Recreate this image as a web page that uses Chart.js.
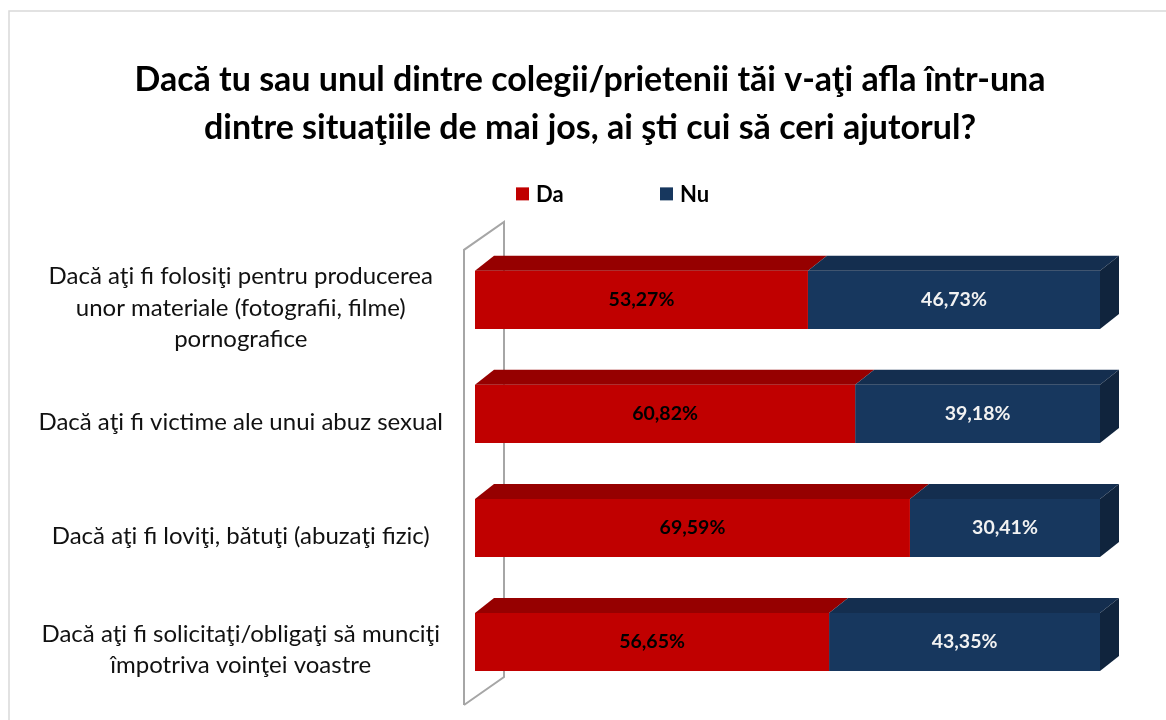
<!DOCTYPE html>
<html>
<head>
<meta charset="utf-8">
<script src="https://cdn.jsdelivr.net/npm/chart.js@4/dist/chart.umd.min.js"></script>
<style>
    body { margin: 0; background: #fff; }
    #wrap { width: 1166px; height: 720px; }
</style>
</head>
<body>
<div id="wrap"><canvas id="chart" width="1166" height="720"></canvas></div>
<script>
const titleLines = [
    'Dacă tu sau unul dintre colegii/prietenii tăi v-aţi afla într-una',
    'dintre situaţiile de mai jos, ai şti cui să ceri ajutorul?'
];
const categories = [
    ['Dacă aţi fi folosiţi pentru producerea', 'unor materiale (fotografii, filme)', 'pornografice'],
    ['Dacă aţi fi victime ale unui abuz sexual'],
    ['Dacă aţi fi loviţi, bătuţi (abuzaţi fizic)'],
    ['Dacă aţi fi solicitaţi/obligaţi să munciţi', 'împotriva voinţei voastre']
];
const seriesNames = ['Da', 'Nu'];
const daValues = [53.27, 60.82, 69.59, 56.65];
const nuValues = [46.73, 39.18, 30.41, 43.35];

const FONT = 'Lato, "Open Sans", sans-serif';
const colors = {
    Da: { front: '#c00000', top: '#960000', side: '#7a0000', text: '#000000' },
    Nu: { front: '#17375e', top: '#142e4f', side: '#10243d', text: '#f2f2f2' }
};
const DX = 19, DY = -15;

const fmt = v => v.toFixed(2).replace('.', ',') + '%';

// frame, wall, legend, 3D faces and value labels
const bar3dPlugin = {
    id: 'bar3d',
    afterLayout(chart) {
        // title is centred over the whole picture, not just the plot
        chart.titleBlock.left += 40;
        chart.titleBlock.right += 40;
    },
    beforeDraw(chart) {
        const ctx = chart.ctx;
        ctx.save();
        ctx.strokeStyle = '#d9d9d9';
        ctx.lineWidth = 1.5;
        ctx.beginPath();
        ctx.moveTo(9, chart.height);
        ctx.lineTo(9, 11);
        ctx.lineTo(chart.width, 11);
        ctx.stroke();
        ctx.restore();
    },
    beforeDatasetsDraw(chart) {
        const ctx = chart.ctx;
        const a = chart.chartArea;
        const x0 = a.left - 11, wx = 40, wy = -28;
        const top = a.top + 7, bottom = a.bottom + 6;
        ctx.save();
        ctx.strokeStyle = '#a6a6a6';
        ctx.lineWidth = 2;
        ctx.beginPath();
        ctx.moveTo(x0, bottom);
        ctx.lineTo(x0, top);
        ctx.lineTo(x0 + wx, top + wy);
        ctx.lineTo(x0 + wx, bottom + wy);
        ctx.lineTo(x0, bottom);
        ctx.stroke();
        ctx.restore();
    },
    afterDatasetsDraw(chart) {
        const ctx = chart.ctx;
        const last = chart.data.datasets.length - 1;
        ctx.save();
        chart.data.datasets.forEach((ds, di) => {
            const c = colors[ds.label];
            chart.getDatasetMeta(di).data.forEach((bar, i) => {
                const p = bar.getProps(['x', 'y', 'base', 'height'], true);
                const t = p.y - p.height / 2;
                const b = p.y + p.height / 2;
                // top face
                ctx.fillStyle = c.top;
                ctx.beginPath();
                ctx.moveTo(p.base, t);
                ctx.lineTo(p.base + DX, t + DY);
                ctx.lineTo(p.x + DX, t + DY);
                ctx.lineTo(p.x, t);
                ctx.closePath();
                ctx.fill();
                // right side face
                if (di === last) {
                    ctx.fillStyle = c.side;
                    ctx.beginPath();
                    ctx.moveTo(p.x, t);
                    ctx.lineTo(p.x + DX, t + DY);
                    ctx.lineTo(p.x + DX, b + DY);
                    ctx.lineTo(p.x, b);
                    ctx.closePath();
                    ctx.fill();
                }
                // value label
                ctx.fillStyle = c.text;
                ctx.font = 'bold 19.5px ' + FONT;
                ctx.textAlign = 'center';
                ctx.textBaseline = 'middle';
                ctx.fillText(fmt(ds.data[i]), (p.base + p.x) / 2, p.y);
            });
        });

        // legend
        const a = chart.chartArea;
        const ly = a.top - 49;
        ctx.font = 'bold 22px ' + FONT;
        ctx.textAlign = 'left';
        ctx.textBaseline = 'middle';
        seriesNames.forEach((name, k) => {
            const lx = a.left + 41 + k * 144;
            ctx.fillStyle = colors[name].front;
            ctx.fillRect(lx, ly - 6.5, 13, 13);
            ctx.fillStyle = '#000';
            ctx.fillText(name, lx + 20, ly + 1);
        });
        ctx.restore();
    }
};

new Chart(document.getElementById('chart'), {
    type: 'bar',
    data: {
        labels: categories,
        datasets: [
            { label: 'Da', data: daValues, backgroundColor: colors.Da.front },
            { label: 'Nu', data: nuValues, backgroundColor: colors.Nu.front }
        ]
    },
    options: {
        indexAxis: 'y',
        responsive: false,
        animation: false,
        events: [],
        barPercentage: 0.51,
        categoryPercentage: 1,
        layout: { padding: { top: 0, left: 0, right: 66, bottom: 21 } },
        plugins: {
            legend: { display: false },
            tooltip: { enabled: false },
            title: {
                display: true,
                text: titleLines,
                color: '#000',
                font: { family: FONT, size: 34, weight: 'bold', lineHeight: 1.41 },
                padding: { top: 56, bottom: 91 }
            }
        },
        scales: {
            x: {
                stacked: true,
                min: 0,
                max: 100,
                display: false
            },
            y: {
                stacked: true,
                grid: { display: false, drawTicks: false },
                border: { display: false },
                afterFit: (scale) => {
                    scale.width = 475;
                    scale.paddingTop = 0;
                    scale.paddingBottom = 0;
                },
                ticks: {
                    crossAlign: 'center',
                    padding: 32,
                    labelOffset: 8,
                    color: '#111',
                    font: { family: FONT, size: 24, lineHeight: 1.31 }
                }
            }
        }
    },
    plugins: [bar3dPlugin]
});
</script>
</body>
</html>
